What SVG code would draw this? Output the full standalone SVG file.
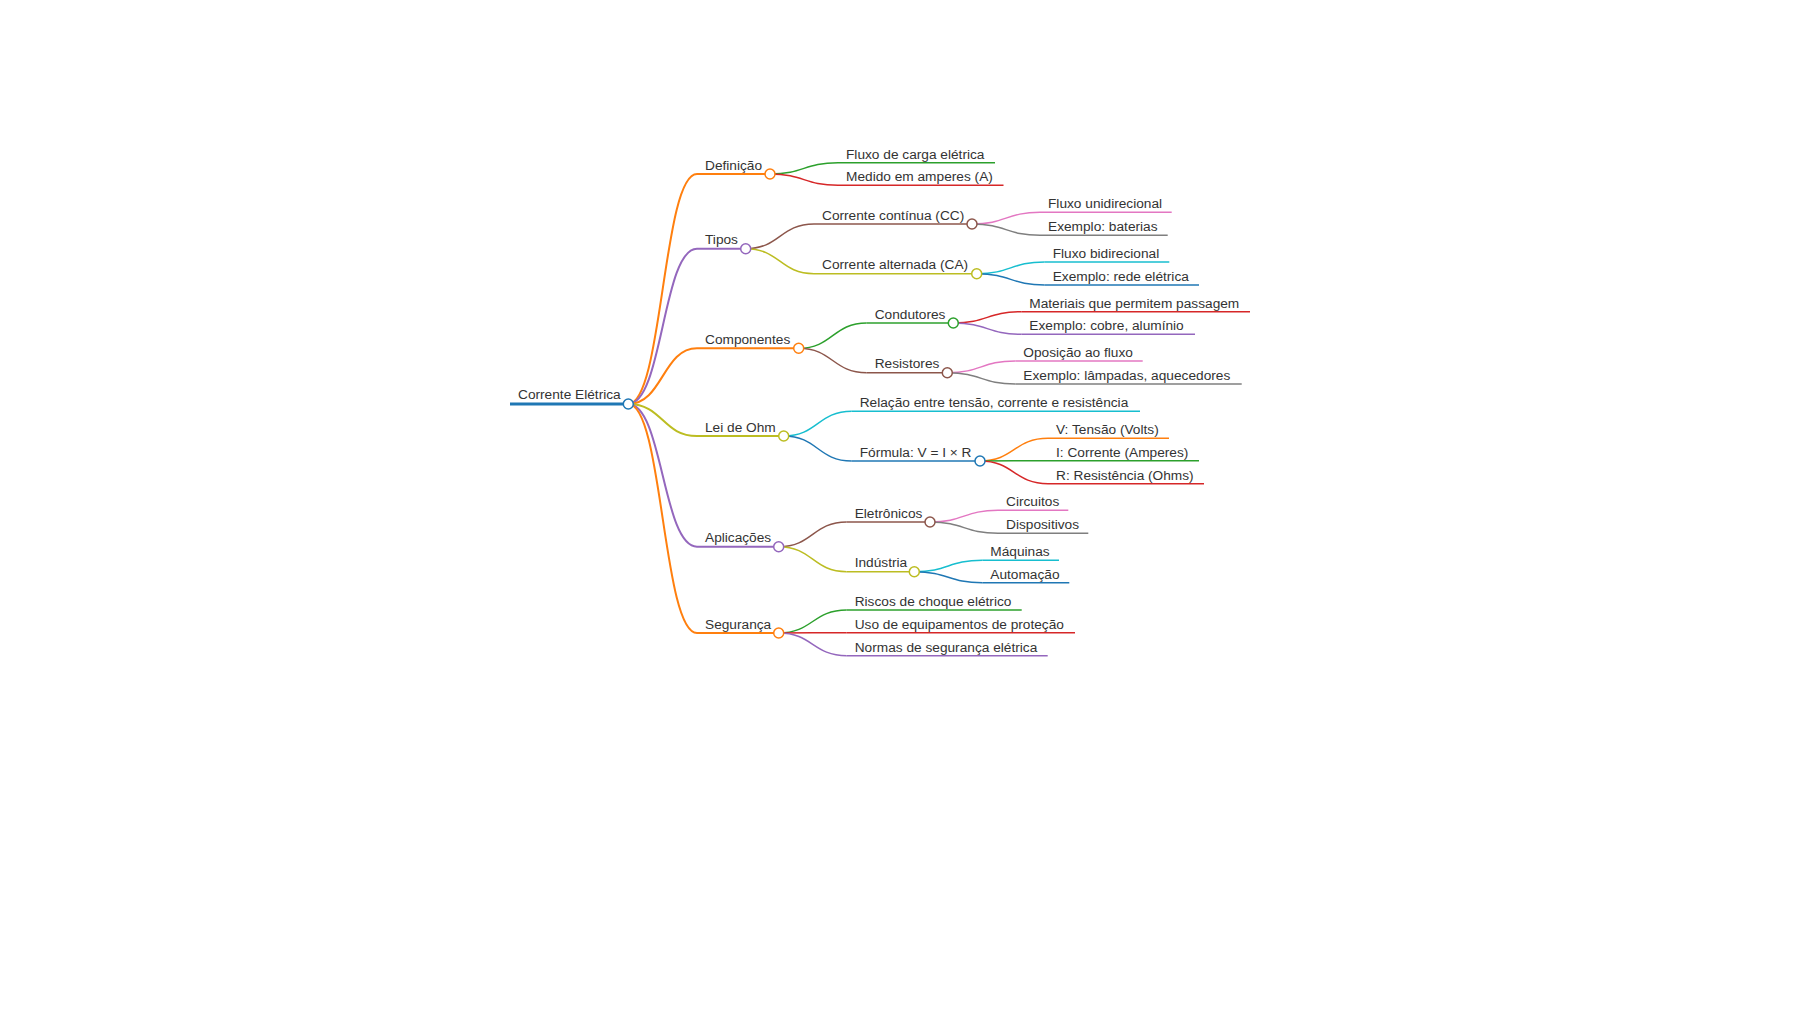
<svg xmlns="http://www.w3.org/2000/svg" width="1800" height="1012" viewBox="0 0 1800 1012">
<style>
text{font-family:"Liberation Sans",Arial,sans-serif;font-size:13.7px;fill:#333}
path,line{fill:none}
circle{fill:#fff;stroke-width:1.5}
.d0{stroke-width:3}.d1{stroke-width:2}.d2{stroke-width:1.5}.d3{stroke-width:1.5}
.c0{stroke:#1f77b4}.c1{stroke:#ff7f0e}.c2{stroke:#2ca02c}.c3{stroke:#d62728}.c4{stroke:#9467bd}
.c5{stroke:#8c564b}.c6{stroke:#e377c2}.c7{stroke:#7f7f7f}.c8{stroke:#bcbd22}.c9{stroke:#17becf}
</style>
<rect width="1800" height="1012" fill="#fff"/>
<g id="connectors">
<path class="d1 c1" d="M628.3,404 C662.7,404 662.7,174 697,174"/>
<path class="d1 c4" d="M628.3,404 C662.7,404 662.7,248.7 697,248.7"/>
<path class="d1 c1" d="M628.3,404 C662.7,404 662.7,348.3 697,348.3"/>
<path class="d1 c8" d="M628.3,404 C662.7,404 662.7,436 697,436"/>
<path class="d1 c4" d="M628.3,404 C662.7,404 662.7,546.7 697,546.7"/>
<path class="d1 c1" d="M628.3,404 C662.7,404 662.7,633 697,633"/>
<path class="d2 c2" d="M770,174 C804,174 804,162.7 838,162.7"/>
<path class="d2 c3" d="M770,174 C804,174 804,185.3 838,185.3"/>
<path class="d2 c5" d="M745.7,248.7 C779.9,248.7 779.9,224 814,224"/>
<path class="d2 c8" d="M745.7,248.7 C779.9,248.7 779.9,273.7 814,273.7"/>
<path class="d3 c6" d="M972,224 C1006,224 1006,212.3 1040,212.3"/>
<path class="d3 c7" d="M972,224 C1006,224 1006,235.3 1040,235.3"/>
<path class="d3 c9" d="M976.7,273.7 C1010.7,273.7 1010.7,262 1044.7,262"/>
<path class="d3 c0" d="M976.7,273.7 C1010.7,273.7 1010.7,285 1044.7,285"/>
<path class="d2 c2" d="M798.7,348.3 C832.7,348.3 832.7,323 866.7,323"/>
<path class="d2 c5" d="M798.7,348.3 C832.7,348.3 832.7,372.7 866.7,372.7"/>
<path class="d3 c3" d="M953.3,323 C987.3,323 987.3,311.7 1021.3,311.7"/>
<path class="d3 c4" d="M953.3,323 C987.3,323 987.3,334.3 1021.3,334.3"/>
<path class="d3 c6" d="M947.3,372.7 C981.3,372.7 981.3,361 1015.3,361"/>
<path class="d3 c7" d="M947.3,372.7 C981.3,372.7 981.3,384 1015.3,384"/>
<path class="d2 c9" d="M783.7,436 C817.7,436 817.7,411.3 851.7,411.3"/>
<path class="d2 c0" d="M783.7,436 C817.7,436 817.7,461 851.7,461"/>
<path class="d3 c1" d="M980,461 C1014,461 1014,438.3 1048,438.3"/>
<path class="d3 c2" d="M980,461 C1014,461 1014,460.7 1048,460.7"/>
<path class="d3 c3" d="M980,461 C1014,461 1014,483.7 1048,483.7"/>
<path class="d2 c5" d="M778.7,546.7 C812.7,546.7 812.7,522 846.7,522"/>
<path class="d2 c8" d="M778.7,546.7 C812.7,546.7 812.7,571.7 846.7,571.7"/>
<path class="d3 c6" d="M930,522 C964,522 964,510.3 998,510.3"/>
<path class="d3 c7" d="M930,522 C964,522 964,533.3 998,533.3"/>
<path class="d3 c9" d="M914.3,571.7 C948.3,571.7 948.3,560.3 982.3,560.3"/>
<path class="d3 c0" d="M914.3,571.7 C948.3,571.7 948.3,582.7 982.3,582.7"/>
<path class="d2 c2" d="M778.7,633 C812.7,633 812.7,610 846.7,610"/>
<path class="d2 c3" d="M778.7,633 C812.7,633 812.7,632.7 846.7,632.7"/>
<path class="d2 c4" d="M778.7,633 C812.7,633 812.7,655.7 846.7,655.7"/>
</g>
<g id="n-root"><line class="d0 c0" x1="510" y1="404" x2="628.3" y2="404"/><circle class="c0" cx="628.3" cy="404" r="5"/><text x="518" y="399">Corrente Elétrica</text></g>
<g id="n-definicao"><line class="d1 c1" x1="697" y1="174" x2="770" y2="174"/><circle class="c1" cx="770" cy="174" r="5"/><text x="705" y="169.5">Definição</text></g>
<g id="n-fluxo-carga"><line class="d2 c2" x1="838" y1="162.7" x2="995" y2="162.7"/><text x="846" y="158.7">Fluxo de carga elétrica</text></g>
<g id="n-medido"><line class="d2 c3" x1="838" y1="185.3" x2="1003.5" y2="185.3"/><text x="846" y="181.3">Medido em amperes (A)</text></g>
<g id="n-tipos"><line class="d1 c4" x1="697" y1="248.7" x2="745.7" y2="248.7"/><circle class="c4" cx="745.7" cy="248.7" r="5"/><text x="705" y="244.2">Tipos</text></g>
<g id="n-cc"><line class="d2 c5" x1="814" y1="224" x2="972" y2="224"/><circle class="c5" cx="972" cy="224" r="5"/><text x="822" y="219.5">Corrente contínua (CC)</text></g>
<g id="n-fluxo-uni"><line class="d3 c6" x1="1040" y1="212.3" x2="1171.7" y2="212.3"/><text x="1048" y="208.3">Fluxo unidirecional</text></g>
<g id="n-baterias"><line class="d3 c7" x1="1040" y1="235.3" x2="1167.7" y2="235.3"/><text x="1048" y="231.3">Exemplo: baterias</text></g>
<g id="n-ca"><line class="d2 c8" x1="814" y1="273.7" x2="976.7" y2="273.7"/><circle class="c8" cx="976.7" cy="273.7" r="5"/><text x="822" y="269.2">Corrente alternada (CA)</text></g>
<g id="n-fluxo-bi"><line class="d3 c9" x1="1044.7" y1="262" x2="1169.3" y2="262"/><text x="1052.7" y="258">Fluxo bidirecional</text></g>
<g id="n-rede"><line class="d3 c0" x1="1044.7" y1="285" x2="1199" y2="285"/><text x="1052.7" y="281">Exemplo: rede elétrica</text></g>
<g id="n-componentes"><line class="d1 c1" x1="697" y1="348.3" x2="798.7" y2="348.3"/><circle class="c1" cx="798.7" cy="348.3" r="5"/><text x="705" y="343.8">Componentes</text></g>
<g id="n-condutores"><line class="d2 c2" x1="866.7" y1="323" x2="953.3" y2="323"/><circle class="c2" cx="953.3" cy="323" r="5"/><text x="874.7" y="318.5">Condutores</text></g>
<g id="n-materiais"><line class="d3 c3" x1="1021.3" y1="311.7" x2="1250" y2="311.7"/><text x="1029.3" y="307.7">Materiais que permitem passagem</text></g>
<g id="n-cobre"><line class="d3 c4" x1="1021.3" y1="334.3" x2="1195" y2="334.3"/><text x="1029.3" y="330.3">Exemplo: cobre, alumínio</text></g>
<g id="n-resistores"><line class="d2 c5" x1="866.7" y1="372.7" x2="947.3" y2="372.7"/><circle class="c5" cx="947.3" cy="372.7" r="5"/><text x="874.7" y="368.2">Resistores</text></g>
<g id="n-oposicao"><line class="d3 c6" x1="1015.3" y1="361" x2="1142.7" y2="361"/><text x="1023.3" y="357">Oposição ao fluxo</text></g>
<g id="n-lampadas"><line class="d3 c7" x1="1015.3" y1="384" x2="1241.7" y2="384"/><text x="1023.3" y="380">Exemplo: lâmpadas, aquecedores</text></g>
<g id="n-ohm"><line class="d1 c8" x1="697" y1="436" x2="783.7" y2="436"/><circle class="c8" cx="783.7" cy="436" r="5"/><text x="705" y="431.5">Lei de Ohm</text></g>
<g id="n-relacao"><line class="d2 c9" x1="851.7" y1="411.3" x2="1140" y2="411.3"/><text x="859.7" y="407.3">Relação entre tensão, corrente e resistência</text></g>
<g id="n-formula"><line class="d2 c0" x1="851.7" y1="461" x2="980" y2="461"/><circle class="c0" cx="980" cy="461" r="5"/><text x="859.7" y="456.5">Fórmula: V = I × R</text></g>
<g id="n-v"><line class="d3 c1" x1="1048" y1="438.3" x2="1169" y2="438.3"/><text x="1056" y="434.3">V: Tensão (Volts)</text></g>
<g id="n-i"><line class="d3 c2" x1="1048" y1="460.7" x2="1199" y2="460.7"/><text x="1056" y="456.7">I: Corrente (Amperes)</text></g>
<g id="n-r"><line class="d3 c3" x1="1048" y1="483.7" x2="1204" y2="483.7"/><text x="1056" y="479.7">R: Resistência (Ohms)</text></g>
<g id="n-aplicacoes"><line class="d1 c4" x1="697" y1="546.7" x2="778.7" y2="546.7"/><circle class="c4" cx="778.7" cy="546.7" r="5"/><text x="705" y="542.2">Aplicações</text></g>
<g id="n-eletronicos"><line class="d2 c5" x1="846.7" y1="522" x2="930" y2="522"/><circle class="c5" cx="930" cy="522" r="5"/><text x="854.7" y="517.5">Eletrônicos</text></g>
<g id="n-circuitos"><line class="d3 c6" x1="998" y1="510.3" x2="1068.3" y2="510.3"/><text x="1006" y="506.3">Circuitos</text></g>
<g id="n-dispositivos"><line class="d3 c7" x1="998" y1="533.3" x2="1088.3" y2="533.3"/><text x="1006" y="529.3">Dispositivos</text></g>
<g id="n-industria"><line class="d2 c8" x1="846.7" y1="571.7" x2="914.3" y2="571.7"/><circle class="c8" cx="914.3" cy="571.7" r="5"/><text x="854.7" y="567.2">Indústria</text></g>
<g id="n-maquinas"><line class="d3 c9" x1="982.3" y1="560.3" x2="1059" y2="560.3"/><text x="990.3" y="556.3">Máquinas</text></g>
<g id="n-automacao"><line class="d3 c0" x1="982.3" y1="582.7" x2="1069.3" y2="582.7"/><text x="990.3" y="578.7">Automação</text></g>
<g id="n-seguranca"><line class="d1 c1" x1="697" y1="633" x2="778.7" y2="633"/><circle class="c1" cx="778.7" cy="633" r="5"/><text x="705" y="628.5">Segurança</text></g>
<g id="n-riscos"><line class="d2 c2" x1="846.7" y1="610" x2="1021.7" y2="610"/><text x="854.7" y="606">Riscos de choque elétrico</text></g>
<g id="n-uso"><line class="d2 c3" x1="846.7" y1="632.7" x2="1075" y2="632.7"/><text x="854.7" y="628.7">Uso de equipamentos de proteção</text></g>
<g id="n-normas"><line class="d2 c4" x1="846.7" y1="655.7" x2="1047.7" y2="655.7"/><text x="854.7" y="651.7">Normas de segurança elétrica</text></g>
</svg>
